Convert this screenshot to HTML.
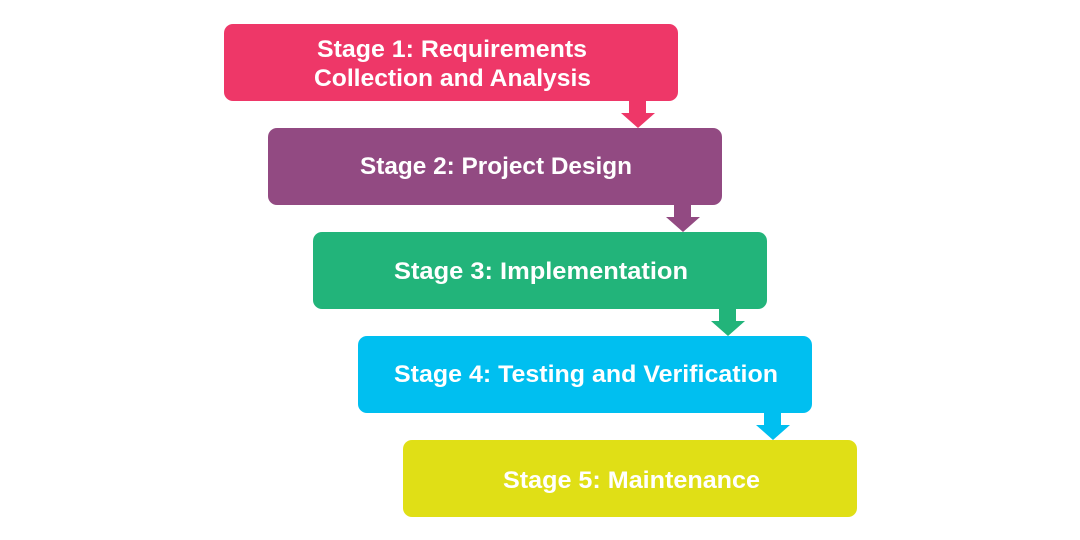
<!DOCTYPE html>
<html>
<head>
<meta charset="utf-8">
<style>
  html,body{margin:0;padding:0;background:#fff;}
  svg{display:block;}
  text{font-family:"Liberation Sans",sans-serif;font-weight:bold;font-size:24px;fill:#fff;}
</style>
</head>
<body>
<svg width="1080" height="540" viewBox="0 0 1080 540" xmlns="http://www.w3.org/2000/svg">
  <rect x="0" y="0" width="1080" height="540" fill="#fff"/>

  <!-- Arrows -->
  <g>
    <polygon fill="#EE3768" points="629,100 646,100 646,113 655,113 638,128 621,113 629,113"/>
    <polygon fill="#924A82" points="674,204 691,204 691,217 700,217 683,232 666,217 674,217"/>
    <polygon fill="#22B47A" points="719,308 736,308 736,321 745,321 728,336 711,321 719,321"/>
    <polygon fill="#00BFF0" points="764,412 781,412 781,425 790,425 773,440 756,425 764,425"/>
  </g>

  <!-- Boxes -->
  <rect x="224" y="24" width="454" height="77" rx="9" fill="#EE3768"/>
  <rect x="268" y="128" width="454" height="77" rx="9" fill="#924A82"/>
  <rect x="313" y="232" width="454" height="77" rx="9" fill="#22B47A"/>
  <rect x="358" y="336" width="454" height="77" rx="9" fill="#00BFF0"/>
  <rect x="403" y="440" width="454" height="77" rx="9" fill="#E0DF16"/>

  <!-- Labels -->
  <text x="317" y="57" textLength="270" lengthAdjust="spacingAndGlyphs">Stage 1: Requirements</text>
  <text x="314" y="86" textLength="277" lengthAdjust="spacingAndGlyphs">Collection and Analysis</text>
  <text x="360" y="174" textLength="272" lengthAdjust="spacingAndGlyphs">Stage 2: Project Design</text>
  <text x="394" y="279" textLength="294" lengthAdjust="spacingAndGlyphs">Stage 3: Implementation</text>
  <text x="394" y="382" textLength="384" lengthAdjust="spacingAndGlyphs">Stage 4: Testing and Verification</text>
  <text x="503" y="488" textLength="257" lengthAdjust="spacingAndGlyphs">Stage 5: Maintenance</text>
</svg>
</body>
</html>
